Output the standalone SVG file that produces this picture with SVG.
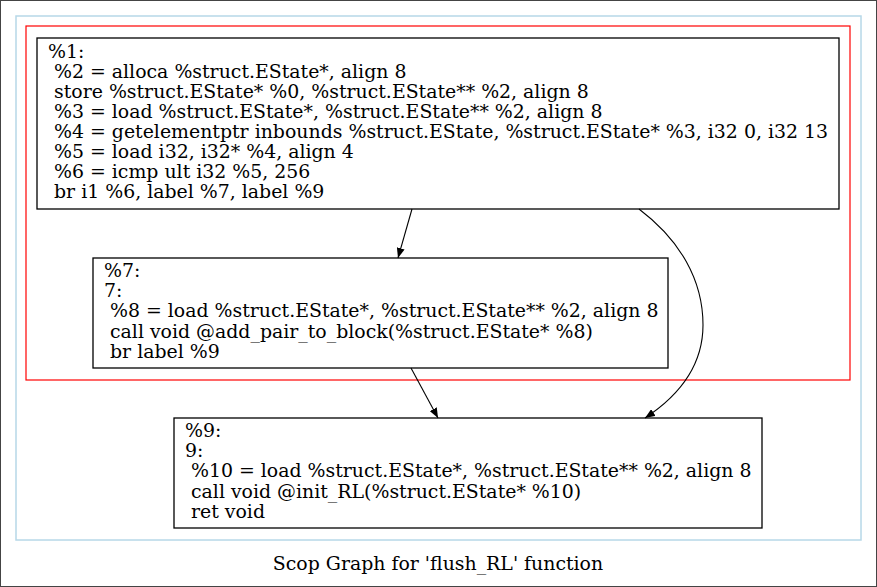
<svg xmlns="http://www.w3.org/2000/svg" width="877" height="587" viewBox="0 0 877 587">
<style>
text{font-family:"DejaVu Serif",serif;font-size:18.9px;fill:#000;white-space:pre}
.n{fill:#fff;stroke:#000;stroke-width:1.3}
.e{fill:none;stroke:#000;stroke-width:1.1}
</style>
<defs>
<marker id="a" markerWidth="10" markerHeight="8" refX="10" refY="4" orient="auto" markerUnits="userSpaceOnUse">
<path d="M0,0L10,4L0,8Z" fill="#000"/>
</marker>
</defs>
<rect x="0.5" y="0.5" width="876" height="586" fill="#fff" stroke="#444"/>
<rect x="16" y="16" width="845" height="524" fill="none" stroke="#b7d8e8" stroke-width="1.5"/>
<rect x="26" y="26" width="824" height="354" fill="none" stroke="#f00" stroke-width="1.2"/>
<g id="node1">
<rect class="n" x="37" y="38" width="802" height="171"/>
<text x="48" y="58.3" xml:space="preserve">%1:</text>
<text x="48" y="78.3" xml:space="preserve"> %2 = alloca %struct.EState*, align 8</text>
<text x="48" y="98.2" xml:space="preserve"> store %struct.EState* %0, %struct.EState** %2, align 8</text>
<text x="48" y="118.2" xml:space="preserve"> %3 = load %struct.EState*, %struct.EState** %2, align 8</text>
<text x="48" y="138.1" xml:space="preserve"> %4 = getelementptr inbounds %struct.EState, %struct.EState* %3, i32 0, i32 13</text>
<text x="48" y="158.1" xml:space="preserve"> %5 = load i32, i32* %4, align 4</text>
<text x="48" y="178" xml:space="preserve"> %6 = icmp ult i32 %5, 256</text>
<text x="48" y="198" xml:space="preserve"> br i1 %6, label %7, label %9</text>
</g>
<g id="node7">
<rect class="n" x="93" y="258" width="575" height="110"/>
<text x="104" y="277" xml:space="preserve">%7:</text>
<text x="104" y="297" xml:space="preserve">7:</text>
<text x="104" y="317" xml:space="preserve"> %8 = load %struct.EState*, %struct.EState** %2, align 8</text>
<text x="104" y="338" xml:space="preserve"> call void @add_pair_to_block(%struct.EState* %8)</text>
<text x="104" y="358" xml:space="preserve"> br label %9</text>
</g>
<g id="node9">
<rect class="n" x="174" y="418" width="588" height="110"/>
<text x="185" y="437" xml:space="preserve">%9:</text>
<text x="185" y="457" xml:space="preserve">9:</text>
<text x="185" y="477" xml:space="preserve"> %10 = load %struct.EState*, %struct.EState** %2, align 8</text>
<text x="185" y="498" xml:space="preserve"> call void @init_RL(%struct.EState* %10)</text>
<text x="185" y="518" xml:space="preserve"> ret void</text>
</g>
<g id="edges">
<path class="e" d="M412,209L398,258" marker-end="url(#a)"/>
<path class="e" d="M411,368L438,418" marker-end="url(#a)"/>
<path class="e" d="M639,209C680,240 703,280 703,325C703,365 680,395 645,418" marker-end="url(#a)"/>
</g>
<text x="438" y="570" text-anchor="middle">Scop Graph for 'flush_RL' function</text>
</svg>
